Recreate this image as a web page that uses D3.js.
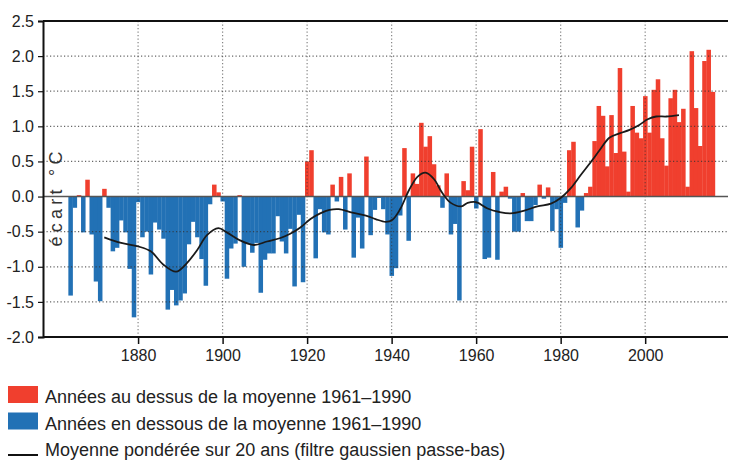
<!DOCTYPE html>
<html>
<head>
<meta charset="utf-8">
<script src="https://cdn.jsdelivr.net/npm/d3@7"></script>
<style>
    body { margin: 0; background: #fff; }
    svg { display: block; font-family: "Liberation Sans Narrow", "Liberation Sans", Arial, sans-serif; }
</style>
</head>
<body>
<svg id="chart" width="729" height="470"></svg>
<script>
'use strict';

// Years shown as bars
const years = d3.range(1864, 2017);

// Anomaly vs 1961-1990 mean (°C), one per year
const anomalies = [
    -1.41, -0.16, 0.02, -0.51, 0.24, -0.54, -1.21, -1.49, 0.11, -0.16,
    -0.78, -0.73, -0.34, -0.51, -1.03, -1.72, -0.08, -0.58, -0.50, -1.11,
    -0.37, -0.47, -0.60, -1.61, -1.33, -1.55, -1.48, -1.38, -0.68, -0.36,
    -0.58, -0.89, -1.27, -0.11, 0.17, 0.06, -0.07, -1.17, -0.74, -0.67,
    0.02, -1.00, -0.66, -0.80, -0.66, -1.37, -0.90, -0.81, -0.81, -0.28,
    -0.64, -0.81, -0.46, -1.28, -0.26, -1.22, 0.50, 0.66, -0.88, -0.18,
    -0.51, -0.54, 0.17, -0.07, 0.28, -0.47, 0.33, -0.87, -0.30, -0.74,
    0.57, -0.55, -0.19, -0.02, -0.18, -0.54, -1.13, -1.02, -0.27, 0.69,
    -0.63, 0.33, 0.18, 1.05, 0.71, 0.86, 0.46, 0.16, -0.16, 0.33,
    -0.54, -0.39, -1.48, 0.22, 0.09, 0.71, -0.17, 0.96, -0.89, -0.87,
    0.35, -0.90, 0.07, 0.14, -0.03, -0.50, -0.50, 0.05, -0.35, -0.35,
    -0.12, 0.17, -0.03, 0.13, -0.49, -0.18, -0.73, -0.09, 0.66, 0.78,
    -0.44, -0.20, 0.05, 0.14, 0.79, 1.29, 1.15, 0.43, 1.16, 0.62,
    1.83, 0.64, 0.07, 1.29, 0.91, 0.83, 1.43, 0.91, 1.52, 1.67,
    0.83, 0.44, 1.40, 1.52, 1.06, 1.25, 0.14, 2.07, 1.26, 0.72,
    1.93, 2.09, 1.49
];

// 20-year gaussian low-pass curve
const smoothYears = [1872, 1876, 1880, 1883, 1886, 1889, 1891.5, 1894, 1896.3, 1899, 1901,
    1904, 1907.4, 1910.5, 1913.7, 1916, 1918.4, 1920.8, 1923.1, 1925.3, 1927.5, 1930.7,
    1933.9, 1936.2, 1938.6, 1940.2, 1942.1, 1944.1, 1946.1, 1948, 1950, 1952, 1954,
    1956.5, 1958, 1960, 1962.7, 1965.5, 1968.2, 1971.4, 1974.5, 1977.7, 1980, 1982.4,
    1984.8, 1987.5, 1989.2, 1991.6, 1993.9, 1996.3, 1998.6, 2000.6, 2002.6, 2005, 2008];
const smoothValues = [-0.58, -0.66, -0.71, -0.78, -0.97, -1.07, -0.95, -0.76, -0.55, -0.45, -0.51,
    -0.62, -0.69, -0.64, -0.59, -0.53, -0.44, -0.32, -0.24, -0.19, -0.18, -0.23,
    -0.27, -0.32, -0.36, -0.33, -0.17, 0.09, 0.28, 0.34, 0.25, 0.05, -0.09,
    -0.14, -0.09, -0.08, -0.17, -0.22, -0.24, -0.20, -0.14, -0.10, -0.02, 0.12,
    0.31, 0.52, 0.66, 0.84, 0.90, 0.95, 1.02, 1.10, 1.14, 1.14, 1.16];

// Tick labels
const yTicks = [-2.0, -1.5, -1.0, -0.5, 0.0, 0.5, 1.0, 1.5, 2.0, 2.5];
const xTicks = [1880, 1900, 1920, 1940, 1960, 1980, 2000];

const yLabel = 'écart °C';
const legendItems = [
    {type: 'rect', color: '#f03f2e', text: 'Années au dessus de la moyenne 1961–1990'},
    {type: 'rect', color: '#2271b5', text: 'Années en dessous de la moyenne 1961–1990'},
    {type: 'line', color: '#111', text: 'Moyenne pondérée sur 20 ans (filtre gaussien passe-bas)'}
];

(function () {

    const svg = d3.select('#chart');

    const left = 43, right = 728, top = 21, bottom = 337;

    const x = d3.scaleLinear()
        .domain([1857.5, 2019.6])
        .range([left, right]);

    const y = d3.scaleLinear()
        .domain([-2.0, 2.5])
        .range([bottom, top]);

    const data = years.map((yr, i) => ({year: yr, value: anomalies[i]}));

    // Bars
    svg.append('g')
        .selectAll('rect')
        .data(data)
        .enter()
        .append('rect')
            .attr('x', d => x(d.year - 0.5))
            .attr('width', d => x(d.year + 0.5) - x(d.year - 0.5) + 0.3)
            .attr('y', d => y(Math.max(0, d.value)))
            .attr('height', d => Math.abs(y(d.value) - y(0)))
            .style('fill', d => d.value >= 0 ? legendItems[0].color : legendItems[1].color);

    // Grid (dotted, drawn over the bars)
    const grid = svg.append('g').attr('class', 'grid');
    grid.selectAll('.hgrid')
        .data(yTicks.filter(v => v !== 0 && v !== 2.5 && v !== -2.0))
        .enter()
        .append('line')
            .attr('x1', left)
            .attr('x2', right)
            .attr('y1', d => y(d))
            .attr('y2', d => y(d))
            .style('stroke', '#333')
            .style('stroke-opacity', 0.75)
            .style('stroke-dasharray', '1.2,2.3')
            .style('stroke-width', 1.2);
    grid.selectAll('.vgrid')
        .data(xTicks)
        .enter()
        .append('line')
            .attr('x1', d => x(d))
            .attr('x2', d => x(d))
            .attr('y1', top)
            .attr('y2', bottom)
            .style('stroke', '#333')
            .style('stroke-opacity', 0.6)
            .style('stroke-dasharray', '1.2,2.3')
            .style('stroke-width', 1.2);

    // Zero line
    svg.append('line')
        .attr('x1', left)
        .attr('x2', right)
        .attr('y1', y(0))
        .attr('y2', y(0))
        .style('stroke', '#555')
        .style('stroke-width', 1.5);

    // Smoothed curve
    const line = d3.line()
        .x(d => x(d[0]))
        .y(d => y(d[1]))
        .curve(d3.curveCatmullRom.alpha(0.5));

    svg.append('path')
        .datum(smoothYears.map((yr, i) => [yr, smoothValues[i]]))
        .attr('d', line)
        .style('fill', 'none')
        .style('stroke', '#1a1a1a')
        .style('stroke-width', 1.8);

    // Top border
    svg.append('line')
        .attr('x1', left)
        .attr('x2', right)
        .attr('y1', top)
        .attr('y2', top)
        .style('stroke', '#111')
        .style('stroke-width', 2);

    // Y axis
    const fmt = d3.format('.1f');
    const yAxis = svg.append('g')
        .attr('transform', `translate(${left}, 0)`)
        .call(d3.axisLeft(y)
            .tickValues(yTicks)
            .tickSize(5)
            .tickPadding(4)
            .tickFormat(d => fmt(d).replace('−', '-')));
    yAxis.select('.domain').style('stroke', '#111').style('stroke-width', 2);
    yAxis.selectAll('.tick line').style('stroke', '#111').style('stroke-width', 1.2);
    yAxis.selectAll('.tick text')
        .style('font-size', '16px')
        .style('fill', '#222')
        .style('font-family', '"Liberation Sans Narrow", Arial, sans-serif');

    // X axis
    const xAxis = svg.append('g')
        .attr('transform', `translate(0, ${bottom})`)
        .call(d3.axisBottom(x)
            .tickValues(xTicks)
            .tickSize(7)
            .tickPadding(6)
            .tickFormat(d3.format('d')));
    xAxis.select('.domain')
        .attr('d', `M${left},0H${right}`)
        .style('stroke', '#111')
        .style('stroke-width', 2);
    xAxis.selectAll('.tick line').style('stroke', '#111').style('stroke-width', 1.5);
    xAxis.selectAll('.tick text')
        .style('font-size', '16px')
        .style('fill', '#222')
        .style('font-family', '"Liberation Sans Narrow", Arial, sans-serif');

    // Y label, inside the plot
    svg.append('text')
        .attr('transform', 'translate(62, 199) rotate(-90)')
        .attr('text-anchor', 'middle')
        .attr('textLength', 95)
        .attr('lengthAdjust', 'spacing')
        .style('font-size', '18px')
        .style('fill', '#333')
        .text(yLabel);

    // Legend
    const legend = svg.append('g').attr('transform', 'translate(8, 386)');
    const rowH = 26.5;
    legendItems.forEach((item, i) => {
        const g = legend.append('g').attr('transform', `translate(0, ${i * rowH})`);
        if (item.type === 'rect') {
            g.append('rect')
                .attr('width', 30)
                .attr('height', 17)
                .style('fill', item.color);
        } else {
            g.append('line')
                .attr('x1', 0)
                .attr('x2', 30)
                .attr('y1', 16)
                .attr('y2', 16)
                .style('stroke', item.color)
                .style('stroke-width', 2);
        }
        g.append('text')
            .attr('x', 37)
            .attr('y', 17)
            .style('font-size', '18px')
            .style('fill', '#222')
            .text(item.text);
    });

})();
</script>
</body>
</html>
